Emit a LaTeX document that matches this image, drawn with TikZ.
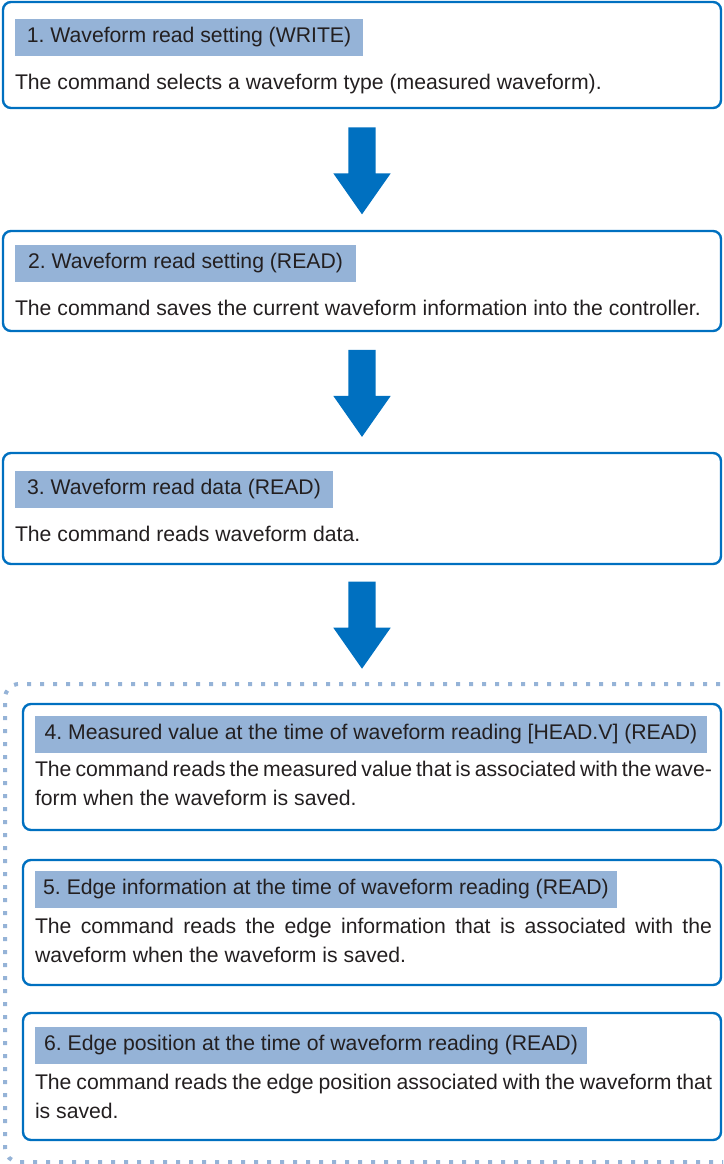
\documentclass[tikz,border=0pt]{standalone}
\usepackage{xcolor}
\usepackage{fontspec}
\setmainfont{Liberation Sans}
\usepackage{tikz}
\usetikzlibrary{shapes.arrows,positioning}
\definecolor{flowblue}{RGB}{0,112,192}
\definecolor{headfill}{RGB}{149,179,215}
\definecolor{dotblue}{RGB}{149,179,215}
\definecolor{ink}{RGB}{35,31,32}
\hbadness=10000
\frenchspacing

\begin{document}
\begin{tikzpicture}[x=1pt,y=-1pt,
  stepbox/.style={draw=flowblue,line width=2.4pt,rounded corners=8pt,inner sep=0},
  head/.style={fill=headfill,minimum height=37pt,inner sep=0,text=ink,font=\fontsize{21.2}{29}\selectfont},
  body/.style={text width=#1,align=justify,inner sep=0,text=ink,font=\fontsize{21.2}{29}\selectfont},
  body/.default=677pt,
  downarrow/.style={pos=0.43,single arrow,fill=flowblue,rotate=-90,minimum height=87pt,inner xsep=0,inner ysep=13.5pt,
    single arrow head extend=15pt,single arrow tip angle=70},
  dotframe/.style={draw=dotblue,line width=4pt,dash pattern=on 4pt off 9pt,rounded corners=14pt,inner sep=0}]
\useasboundingbox (0,0) rectangle (723,1164);
\clip (0,0) rectangle (723,1164);
\node [stepbox,minimum width=718pt,minimum height=106pt] (b1) at (362,55) {};
\node [stepbox,minimum width=718pt,minimum height=100pt] (b2) at (362,281) {};
\node [stepbox,minimum width=718pt,minimum height=111pt] (b3) at (362,508.5) {};
\node [dotframe,minimum width=755pt,minimum height=478pt] (grp) at (382.5,923) {};
\node [stepbox,minimum width=698pt,minimum height=126pt] (b4) at (372,767) {};
\node [stepbox,minimum width=698pt,minimum height=125pt] (b5) at (372,922.5) {};
\node [stepbox,minimum width=698pt,minimum height=127pt] (b6) at (372,1076.5) {};
\node [head,minimum width=348pt,anchor=north west] (t1) at ([shift={(13,18)}]b1.north west) {1. Waveform read setting (WRITE)};
\node [head,minimum width=341pt,anchor=north west] (t2) at ([shift={(13,15)}]b2.north west) {2. Waveform read setting (READ)};
\node [head,minimum width=318pt,anchor=north west] (t3) at ([shift={(13,19)}]b3.north west) {3. Waveform read data (READ)};
\node [head,minimum width=672pt,anchor=north west] (t4) at ([shift={(13,13)}]b4.north west) {4. Measured value at the time of waveform reading [HEAD.V] (READ)};
\node [head,minimum width=582pt,anchor=north west] (t5) at ([shift={(13,12)}]b5.north west) {5. Edge information at the time of waveform reading (READ)};
\node [head,minimum width=552pt,anchor=north west] (t6) at ([shift={(13,15)}]b6.north west) {6. Edge position at the time of waveform reading (READ)};
\node [body=700pt,below=17.7pt of t1.south west,anchor=north west] (d1) {The command selects a waveform type (measured waveform).};
\node [body=700pt,below=17.7pt of t2.south west,anchor=north west] (d2) {The command saves the current waveform information into the controller.};
\node [body=700pt,below=17.7pt of t3.south west,anchor=north west] (d3) {The command reads waveform data.};
\node [body,below=7.7pt of t4.south west,anchor=north west] (d4) {The command reads the measured value that is associated with the wave-\linebreak form when the waveform is saved.};
\node [body,below=9.7pt of t5.south west,anchor=north west] (d5) {The command reads the edge information that is associated with the\linebreak waveform when the waveform is saved.};
\node [body,below=9.7pt of t6.south west,anchor=north west] (d6) {The command reads the edge position associated with the waveform that\linebreak is saved.};
\path (b1.south) -- (b2.north) node (a1) [downarrow] {};
\path (b2.south) -- (b3.north) node (a2) [downarrow] {};
\path (b3.south) -- (b3.south |- grp.north) node (a3) [downarrow] {};
\end{tikzpicture}
\end{document}
